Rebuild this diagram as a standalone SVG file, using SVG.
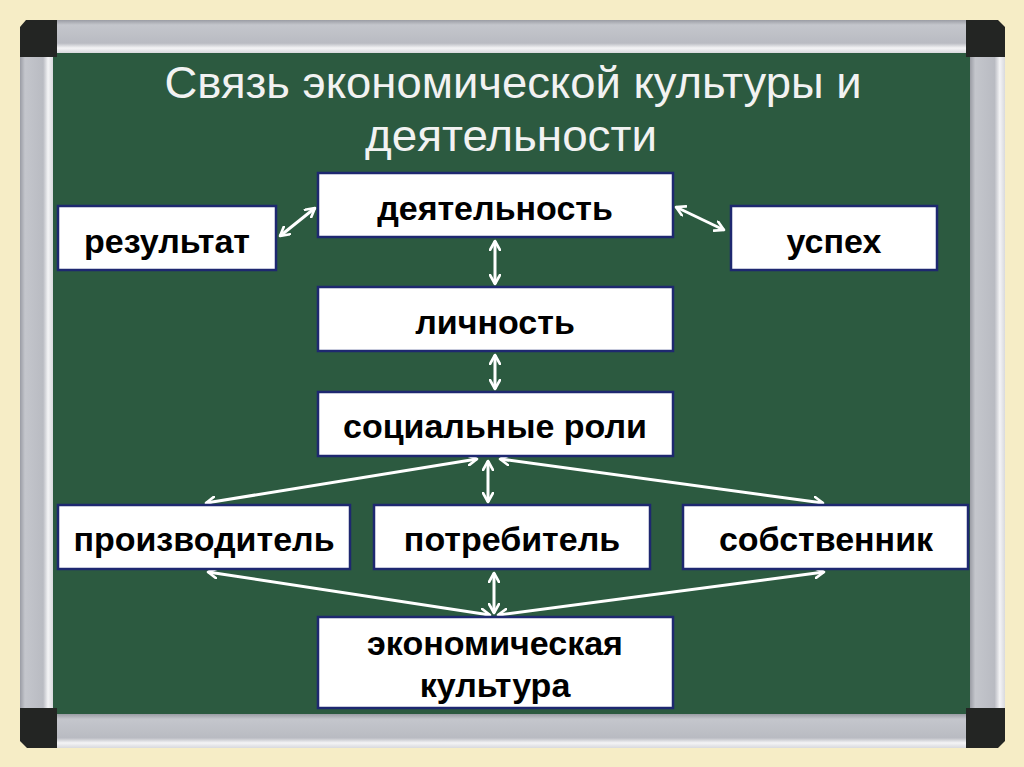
<svg xmlns="http://www.w3.org/2000/svg" width="1024" height="767" viewBox="0 0 1024 767">
<defs>
<linearGradient id="railH" x1="0" y1="0" x2="0" y2="1">
<stop offset="0" stop-color="#9a9ca4"/><stop offset="0.15" stop-color="#c4c6cc"/><stop offset="0.7" stop-color="#b9bbc2"/><stop offset="0.85" stop-color="#f4f4f6"/><stop offset="1" stop-color="#d8d9dd"/>
</linearGradient>
<linearGradient id="railV" x1="0" y1="0" x2="1" y2="0">
<stop offset="0" stop-color="#9a9ca4"/><stop offset="0.15" stop-color="#c4c6cc"/><stop offset="0.7" stop-color="#b9bbc2"/><stop offset="0.85" stop-color="#f4f4f6"/><stop offset="1" stop-color="#d8d9dd"/>
</linearGradient>
<marker id="ah" viewBox="0 0 12 12" refX="10" refY="6" markerWidth="12" markerHeight="12" markerUnits="userSpaceOnUse" orient="auto-start-reverse">
<path d="M1,1 L10,6 L1,11" fill="none" stroke="#ffffff" stroke-width="2.6" stroke-linecap="round" stroke-linejoin="round"/>
</marker>
<style>
.box{fill:#ffffff;stroke:#1e2870;stroke-width:2.5}
.lbl{font-family:"Liberation Sans",Arial,sans-serif;font-weight:bold;font-size:34px;fill:#000000;text-anchor:middle}
.ttl{font-family:"Liberation Sans",Arial,sans-serif;font-size:44px;fill:#f2f2f2;text-anchor:middle}
.con{stroke:#ffffff;stroke-width:3;fill:none;marker-start:url(#ah);marker-end:url(#ah)}
</style>
</defs>
<rect x="0" y="0" width="1024" height="767" fill="#f6edc6"/>
<g id="board">
<rect x="50" y="50" width="922" height="666" fill="#2c5a40"/>
<rect x="57" y="20" width="910" height="33" fill="url(#railH)"/>
<rect x="57" y="714" width="910" height="34" fill="url(#railH)"/>
<rect x="20" y="57" width="33" height="652" fill="url(#railV)"/>
<rect x="970" y="57" width="35" height="652" fill="url(#railV)"/>
<path d="M26,20 L57,20 L57,57 L20,57 L20,27 Z" fill="#232523"/>
<path d="M966,20 L998,20 L1005,27 L1005,57 L966,57 Z" fill="#232523"/>
<path d="M20,708 L57,708 L57,748 L27,748 L20,741 Z" fill="#232523"/>
<path d="M966,708 L1005,708 L1005,741 L998,748 L966,748 Z" fill="#232523"/>
</g>
<g id="title">
<text class="ttl" x="513" y="98" textLength="697" lengthAdjust="spacingAndGlyphs">Связь экономической культуры и</text>
<text class="ttl" x="511" y="151" textLength="292" lengthAdjust="spacingAndGlyphs">деятельности</text>
</g>
<g id="connectors">
<line class="con" x1="280" y1="236" x2="315" y2="208"/>
<line class="con" x1="676" y1="207" x2="724" y2="230"/>
<line class="con" x1="495" y1="241" x2="495" y2="284"/>
<line class="con" x1="495" y1="355" x2="495" y2="389"/>
<line class="con" x1="477" y1="459" x2="206" y2="503"/>
<line class="con" x1="488" y1="461" x2="488" y2="502"/>
<line class="con" x1="500" y1="459" x2="823" y2="503"/>
<line class="con" x1="208" y1="572" x2="490" y2="615"/>
<line class="con" x1="494" y1="573" x2="494" y2="613"/>
<line class="con" x1="824" y1="572" x2="498" y2="615"/>
</g>
<g id="n-activity"><rect class="box" x="318" y="173" width="355" height="64"/><text class="lbl" x="495" y="220">деятельность</text></g>
<g id="n-result"><rect class="box" x="58" y="206" width="218" height="64"/><text class="lbl" x="167" y="253">результат</text></g>
<g id="n-success"><rect class="box" x="731" y="206" width="206" height="64"/><text class="lbl" x="834" y="253">успех</text></g>
<g id="n-personality"><rect class="box" x="318" y="287" width="355" height="64"/><text class="lbl" x="495" y="334">личность</text></g>
<g id="n-roles"><rect class="box" x="318" y="392" width="355" height="64"/><text class="lbl" x="495" y="438">социальные роли</text></g>
<g id="n-producer"><rect class="box" x="58" y="505" width="292" height="64"/><text class="lbl" x="204" y="551">производитель</text></g>
<g id="n-consumer"><rect class="box" x="374" y="505" width="276" height="64"/><text class="lbl" x="512" y="551">потребитель</text></g>
<g id="n-owner"><rect class="box" x="683" y="505" width="285" height="64"/><text class="lbl" x="826" y="551">собственник</text></g>
<g id="n-econculture"><rect class="box" x="318" y="617" width="355" height="91"/><text class="lbl" x="495" y="655">экономическая</text><text class="lbl" x="495" y="697">культура</text></g>
</svg>
